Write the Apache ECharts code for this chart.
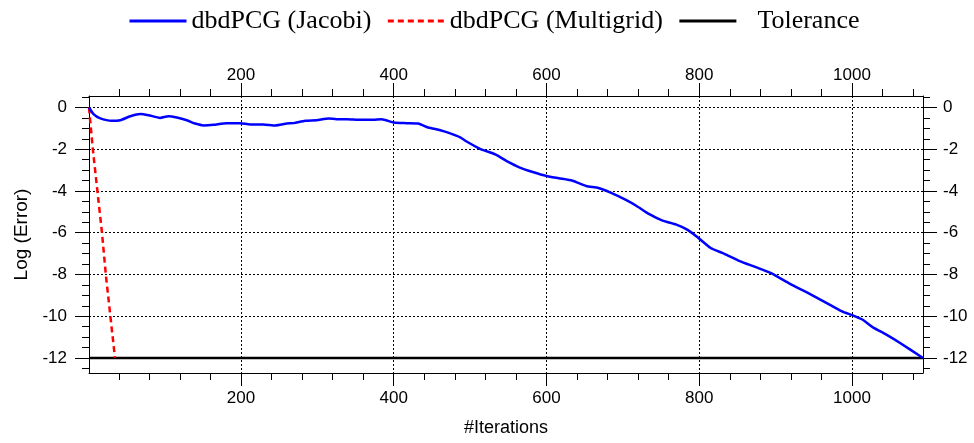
<!DOCTYPE html>
<html>
<head>
<meta charset="utf-8">
<script src="https://cdn.jsdelivr.net/npm/echarts@6/dist/echarts.min.js"></script>
<style>
html,body{margin:0;padding:0;background:#fff;}
#chart{width:974px;height:443px;}
</style>
</head>
<body>
<div id="chart"></div>
<script>
// Data
const jacobiIter = [1, 7, 15, 31, 42, 55, 68, 79, 94, 105, 116, 129, 140, 151, 164, 181, 199, 212, 229, 245, 260, 269, 284, 299, 315, 325, 339, 356, 373, 384, 400, 417, 432, 445, 461, 474, 487, 496, 513, 533, 548, 566, 582, 600, 616, 634, 652, 668, 684, 704, 718, 734, 752, 770, 783, 797, 815, 833, 853, 874, 894, 919, 941, 964, 987, 1001, 1014, 1027, 1045, 1063, 1093];
const jacobiLog  = [0, -0.32, -0.51, -0.64, -0.61, -0.42, -0.31, -0.37, -0.50, -0.42, -0.48, -0.61, -0.77, -0.86, -0.83, -0.75, -0.75, -0.81, -0.81, -0.86, -0.77, -0.75, -0.64, -0.61, -0.53, -0.56, -0.56, -0.59, -0.59, -0.56, -0.72, -0.75, -0.77, -0.96, -1.09, -1.24, -1.43, -1.64, -1.98, -2.25, -2.57, -2.89, -3.09, -3.28, -3.39, -3.51, -3.76, -3.86, -4.08, -4.43, -4.72, -5.10, -5.42, -5.61, -5.83, -6.19, -6.73, -7.01, -7.36, -7.65, -7.94, -8.45, -8.86, -9.31, -9.77, -9.96, -10.17, -10.52, -10.88, -11.28, -12.0];
const multigridIter = [1, 6, 12, 18, 23, 29, 35];
const multigridLog  = [0, -2, -4, -6, -8, -10, -12];
const toleranceIter = [1, 1093];
const toleranceLog  = [-12, -12];
const xTicks = [200, 400, 600, 800, 1000];
const yTicks = [-12, -10, -8, -6, -4, -2, 0];
const seriesNames = ['dbdPCG (Jacobi)', 'dbdPCG (Multigrid)', 'Tolerance'];

const zip = (a, b) => a.map((v, i) => [v, b[i]]);

const labelFont = {fontFamily: 'Liberation Sans, Arial, sans-serif', fontSize: 17, color: '#000'};
const titleFont = {fontFamily: 'Liberation Sans, Arial, sans-serif', fontSize: 18, color: '#000'};
const gridDots = {show: true, lineStyle: {color: '#000', width: 1, type: [2, 2]}};

function xAx(pos, main) {
  return {
    type: 'value', position: pos, min: 1, max: 1093,
    minInterval: 200, maxInterval: 200,
    name: main ? '#Iterations' : '', nameLocation: 'middle', nameGap: 46,
    nameTextStyle: titleFont,
    axisLine: {show: true, onZero: false, lineStyle: {color: '#000', width: 1}},
    axisTick: {show: true, inside: false, length: 13, customValues: xTicks, lineStyle: {color: '#000', width: 1}},
    minorTick: {show: true, splitNumber: 5, length: 7, lineStyle: {color: '#000', width: 1}},
    axisLabel: Object.assign({show: true, margin: main ? 17 : 12, customValues: xTicks, formatter: v => String(v)}, labelFont),
    splitLine: main ? gridDots : {show: false}
  };
}
function yAx(pos, main) {
  return {
    type: 'value', position: pos, min: -12.72, max: 0.55,
    minInterval: 2, maxInterval: 2,
    name: main ? 'Log (Error)' : '', nameLocation: 'middle', nameGap: 57, nameRotate: 90,
    nameTextStyle: Object.assign({}, titleFont, {fontSize: 19}),
    axisLine: {show: true, onZero: false, lineStyle: {color: '#000', width: 1}},
    axisTick: {show: true, inside: false, length: 14, customValues: yTicks, lineStyle: {color: '#000', width: 1}},
    minorTick: {show: true, splitNumber: 4, length: 7, lineStyle: {color: '#000', width: 1}},
    axisLabel: Object.assign({show: true, margin: main ? 22 : 20, customValues: yTicks, formatter: v => String(v)}, labelFont),
    splitLine: main ? gridDots : {show: false}
  };
}

const chart = echarts.init(document.getElementById('chart'), null, {renderer: 'canvas'});
chart.setOption({
  animation: false,
  backgroundColor: '#fff',
  legend: {
    left: 128, top: 8, padding: 0,
    itemWidth: 57, itemHeight: 4, itemGap: 15,
    itemStyle: {opacity: 0},
    lineStyle: {width: 3},
    textStyle: {fontFamily: 'Liberation Serif, Times New Roman, serif', fontSize: 26, color: '#000'},
    data: [
      {name: seriesNames[0]},
      {name: seriesNames[1]},
      {name: seriesNames[2], textStyle: {padding: [0, 0, 0, 16]}}
    ]
  },
  grid: {left: 89, right: 51, top: 96, bottom: 70, containLabel: false, show: false},
  xAxis: [xAx('bottom', true), xAx('top', false)],
  yAxis: [yAx('left', true), yAx('right', false)],
  series: [
    {
      name: seriesNames[0], type: 'line', data: zip(jacobiIter, jacobiLog),
      showSymbol: false, symbol: 'none', smooth: 0.2,
      lineStyle: {color: '#0000ff', width: 2.5}, itemStyle: {color: '#0000ff'}, z: 4
    },
    {
      name: seriesNames[1], type: 'line', data: zip(multigridIter, multigridLog),
      showSymbol: false, symbol: 'none',
      lineStyle: {color: '#ff0000', width: 2.5, type: [6, 4]}, itemStyle: {color: '#ff0000'}, z: 3
    },
    {
      name: seriesNames[2], type: 'line', data: zip(toleranceIter, toleranceLog),
      showSymbol: false, symbol: 'none',
      lineStyle: {color: '#000', width: 2.5}, itemStyle: {color: '#000'}, z: 2
    }
  ]
});
</script>
</body>
</html>
